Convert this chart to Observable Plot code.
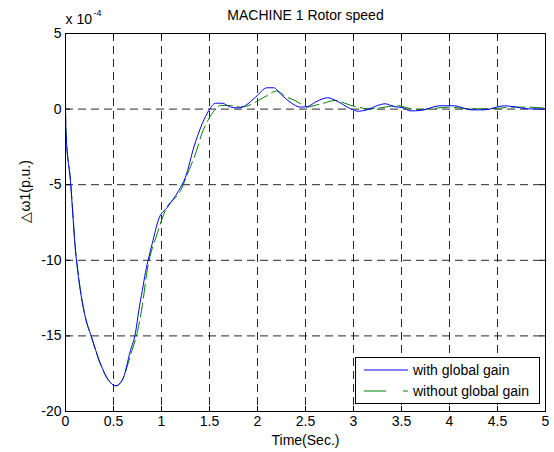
<!DOCTYPE html>
<html><head><meta charset="utf-8">
<script src="https://cdn.jsdelivr.net/npm/d3@7"></script>
<script src="https://cdn.jsdelivr.net/npm/@observablehq/plot@0.6"></script>
<style>
body{margin:0;background:#fff}
svg{font-family:"Liberation Sans",Arial,sans-serif}
</style>
</head><body><div id="chart"></div>
<script>
// Time (s) and Δω1 (×10^-4 p.u.) — with global gain
const tWith = [0,0.005,0.052,0.104,0.139,0.208,0.267,0.365,0.45,0.52,0.59,0.677,0.73,0.764,0.8,0.833,0.868,0.903,0.972,1.06,1.18,1.25,1.337,1.424,1.493,1.563,1.632,1.72,1.8,1.875,1.98,2.1,2.17,2.24,2.34,2.45,2.52,2.62,2.73,2.83,2.97,3.05,3.14,3.25,3.33,3.42,3.52,3.59,3.7,3.9,4.05,4.22,4.36,4.57,4.7,4.81,5.0];
const vWith = [0,-1.5,-4.8,-9.35,-11.3,-13.8,-15.0,-16.85,-17.95,-18.3,-17.95,-15.96,-14.75,-13.3,-12.0,-10.8,-9.8,-8.9,-7.25,-6.5,-5.38,-4.5,-2.52,-0.97,-0.09,0.39,0.39,0.13,0.08,0.24,0.79,1.41,1.41,1.0,0.46,0.13,0.17,0.52,0.75,0.52,0.02,-0.14,-0.05,0.24,0.35,0.17,0.08,-0.12,-0.09,0.22,0.22,-0.05,-0.05,0.22,0.13,0.02,0];
// without global gain
const tWithout = [0,0.005,0.052,0.104,0.139,0.208,0.267,0.365,0.45,0.53,0.6,0.68,0.75,0.8,0.85,0.955,1.04,1.2,1.285,1.354,1.42,1.493,1.55,1.615,1.72,1.82,1.875,2.01,2.1,2.2,2.3,2.38,2.45,2.52,2.6,2.69,2.8,2.88,2.97,3.05,3.15,3.28,3.45,3.55,3.66,3.8,4.0,4.15,4.32,4.5,4.64,4.81,5.0];
const vWithout = [0,-1.5,-4.7,-9.3,-11.2,-13.8,-15.0,-16.9,-17.95,-18.3,-17.8,-16.2,-14.7,-13.0,-10.7,-8.25,-6.7,-5.38,-4.06,-2.96,-1.63,-0.64,-0.1,0.24,0.24,0.13,0.17,0.57,0.9,1.2,0.8,0.6,0.35,0.13,0.25,0.39,0.57,0.46,0.25,0.13,0.02,0.08,0.24,0.1,-0.05,0.02,0.13,0.05,0.02,0.05,0.13,0.13,0.05];
const xTicks = [0,0.5,1,1.5,2,2.5,3,3.5,4,4.5,5];
const yTicks = [-20,-15,-10,-5,0,5];
const seriesNames = ["with global gain","without global gain"];
const titleText = "MACHINE 1 Rotor speed";
const xLabel = "Time(Sec.)";
const yLabel = "△ω1(p.u.)";

const dWith = tWith.map((t,i)=>({t, v:vWith[i]}));
const dWithout = tWithout.map((t,i)=>({t, v:vWithout[i]}));

const W = 554, H = 452, mL = 65, mR = 9, mT = 33, mB = 41;
const innerW = W - mL - mR, innerH = H - mT - mB;
const FS = 14;

const chart = Plot.plot({
  width: W, height: H,
  marginLeft: mL, marginRight: mR, marginTop: mT, marginBottom: mB,
  style: {fontSize: FS + "px", fontFamily: '"Liberation Sans", Arial, sans-serif', color: "#000", background: "#fff"},
  x: {domain: [0,5]},
  y: {domain: [-20,5]},
  marks: [
    Plot.gridX(xTicks.slice(1,-1), {stroke: "#000", strokeOpacity: 0.85, strokeDasharray: "8,5"}),
    Plot.gridY(yTicks.slice(1,-1), {stroke: "#000", strokeOpacity: 0.85, strokeDasharray: "8,5"}),
    Plot.tickX(xTicks, {x: d=>d, insetTop: innerH-5, stroke:"#000"}),
    Plot.tickX(xTicks, {x: d=>d, insetBottom: innerH-5, stroke:"#000"}),
    Plot.tickY(yTicks, {y: d=>d, insetLeft: innerW-5, stroke:"#000"}),
    Plot.tickY(yTicks, {y: d=>d, insetRight: innerW-5, stroke:"#000"}),
    Plot.line(dWithout, {x:"t", y:"v", stroke:"#008000", strokeWidth:1, strokeDasharray:"14,5", curve:"monotone-x"}),
    Plot.line(dWith, {x:"t", y:"v", stroke:"#0000ff", strokeWidth:1, curve:"monotone-x"}),
    Plot.frame({stroke:"#000"}),
    Plot.axisX(xTicks, {tickSize:0, tickPadding:5, tickFormat: d=>String(d), label:null}),
    Plot.axisY(yTicks, {tickSize:0, tickPadding:4, tickFormat: d=>String(d), label:null}),
    Plot.text([titleText], {frameAnchor:"top", dy:-18, lineAnchor:"middle", fontSize: FS}),
    Plot.text([xLabel], {frameAnchor:"bottom", dy:29, lineAnchor:"middle", fontSize: FS}),
    Plot.text([yLabel], {frameAnchor:"left", dx:-40, rotate:-90, lineAnchor:"middle", fontSize: FS}),
    Plot.text(["x 10"], {frameAnchor:"top-left", dy:-14, textAnchor:"start", lineAnchor:"middle", fontSize: FS}),
    Plot.text(["-4"], {frameAnchor:"top-left", dx:28, dy:-20, textAnchor:"start", lineAnchor:"middle", fontSize: 9})
  ]
});

// legend
const svg = d3.select(chart);
const lg = svg.append("g").attr("text-anchor","start");
lg.append("rect").attr("x",355.5).attr("y",357.5).attr("width",184).attr("height",46).attr("fill","#fff").attr("stroke","#000");
lg.append("line").attr("x1",364).attr("x2",408).attr("y1",370).attr("y2",370).attr("stroke","#0000ff");
lg.append("line").attr("x1",364).attr("x2",408).attr("y1",391).attr("y2",391).attr("stroke","#008000").attr("stroke-dasharray","22,17");
lg.append("text").attr("x",413).attr("y",370).attr("dy","0.35em").attr("text-anchor","start").attr("font-size",FS).text(seriesNames[0]);
lg.append("text").attr("x",413).attr("y",391).attr("dy","0.35em").attr("text-anchor","start").attr("font-size",FS).text(seriesNames[1]);

document.getElementById("chart").append(chart);
</script>
</body></html>
